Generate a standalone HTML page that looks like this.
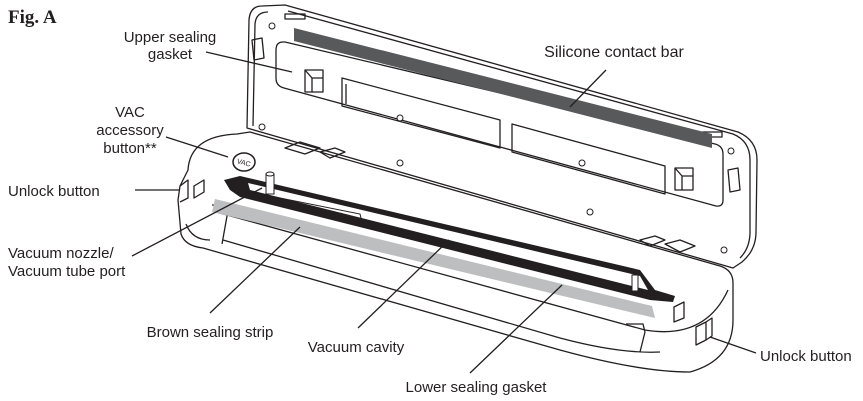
<!DOCTYPE html>
<html><head><meta charset="utf-8"><style>
html,body{margin:0;padding:0;background:#fff;}
svg{display:block}
text{font-family:"Liberation Sans",sans-serif;font-size:15px;fill:#231f20}
</style></head><body>
<svg width="863" height="401" viewBox="0 0 863 401" xmlns="http://www.w3.org/2000/svg">
<g fill="none" stroke="#231f20" stroke-width="1.3" stroke-linejoin="round">
<path d="M262,6 Q250,6 249,20 L247,128 L733,268 L742,262 Q756,250 756,232 L757,160 Q757,140 738,132 L285,5 Z" fill="#fff"/>
<path d="M268,12 Q256,12 255,24 L253,126 M288,11 L733,134 Q750,141 750,160 L750,232 Q750,248 740,258"/>
<path d="M283,42 Q276,42 276,50 L276,78 Q276,86 284,88 L716,206 Q723,207 723,200 L723,154 Q723,146 715,144 L285,42 Z"/>
<path d="M342,78 L342,106 L500,148 L500,120 Z M346,84 L346,104 M512,124 L512,152 L665,194 L665,166 Z"/>
<rect x="305" y="70" width="18" height="22"/><path d="M305,70 L312,78 L323,78 M312,78 L312,92"/>
<rect x="675" y="168" width="18" height="22"/><path d="M675,168 L682,176 L693,176 M682,176 L682,190"/>
<path d="M252,40 L262,38 L264,58 L254,60 Z M728,170 L738,168 L740,190 L730,192 Z"/>
<rect x="285" y="14" width="20" height="5"/><rect x="702" y="132" width="20" height="5"/>
<path d="M237,134 Q190,136 188,170 L180,186 L178,200 L181,234 Q185,246 203,248 L560,350 Q640,372 690,372 Q733,360 733,320 L733,283 Q733,270 720,266 L250,132 Z" fill="#fff"/>
<path d="M223,240 L560,338 Q620,354 660,352"/>
<path d="M216,212 L645,330 Q705,340 728,290"/>
<path d="M186,224 Q192,240 210,240"/>
<path d="M212,205 L229,205 L222,244 M626,324 L643,324 L645,332 M645,332 L640,352"/>
<path d="M180,186 L188,180 L188,198 L180,202 M696,327 L706,322 L706,340 L696,345 Z M706,322 L712,318 L712,336 L706,340"/>
<path d="M194,186 L204,180 L204,192 L194,198 Z M674,307 L684,302 L684,318 L674,322 Z"/>
<path d="M285,148 L300,142 L320,148 L305,154 Z M320,152 L335,148 L345,152 L330,158 Z M640,240 L655,236 L665,240 L650,246 Z M665,244 L680,240 L695,246 L680,252 Z"/>
</g>
<path d="M294,28 L712,134 L712,148 L294,41 Z" fill="#58595b"/>
<path d="M215,199 L652,306 L655,318 L212,212 Z" fill="#bcbec0"/>
<path d="M224,180 L240,176 L640,270 L655,290 L675,296 L673,302 L650,300 L240,197 L230,190 Z" fill="#231f20"/>
<path d="M248,183 L640,276 L648,290 L250,190 Z" fill="#fff"/>
<path d="M275,197 L360,214 L362,222 L280,204 Z" fill="none" stroke="#231f20"/>
<rect x="266" y="174" width="8" height="20" fill="#fff" stroke="#231f20"/>
<ellipse cx="270" cy="174" rx="4" ry="2" fill="#fff" stroke="#231f20"/>
<rect x="632" y="275" width="6" height="16" fill="#fff" stroke="#231f20"/>
<ellipse cx="244" cy="162" rx="11" ry="9" fill="#fff" stroke="#231f20" stroke-width="1.5"/>
<text x="244" y="165" text-anchor="middle" transform="rotate(15 244 162)" style="font-size:7px">VAC</text>
<g fill="#fff" stroke="#231f20"><circle cx="272" cy="26" r="3"/><circle cx="400" cy="118" r="3"/><circle cx="262" cy="127" r="3"/><circle cx="400" cy="163" r="3"/><circle cx="582" cy="163" r="3"/><circle cx="731" cy="151" r="3"/><circle cx="590" cy="212" r="3"/><circle cx="724" cy="250" r="3"/></g>
<g stroke="#231f20" stroke-width="1.3">
<line x1="206" y1="52" x2="292" y2="72"/>
<line x1="606" y1="70" x2="570" y2="107"/>
<line x1="166" y1="137" x2="228" y2="157"/>
<line x1="135" y1="190" x2="179" y2="190"/>
<line x1="132" y1="256" x2="262" y2="188"/>
<line x1="210" y1="313" x2="300" y2="227"/>
<line x1="358" y1="328" x2="449" y2="240"/>
<line x1="470" y1="373" x2="562" y2="285"/>
<line x1="710" y1="337" x2="756" y2="353"/>
</g>
<text x="8" y="23" style="font-family:'Liberation Serif',serif;font-weight:bold;font-size:19px">Fig. A</text>
<text x="170" y="42" text-anchor="middle">Upper sealing</text>
<text x="170" y="59" text-anchor="middle">gasket</text>
<text x="614" y="57" text-anchor="middle" style="font-size:16px">Silicone contact bar</text>
<text x="130" y="117" text-anchor="middle">VAC</text>
<text x="130" y="135" text-anchor="middle">accessory</text>
<text x="130" y="153" text-anchor="middle">button**</text>
<text x="8" y="196">Unlock button</text>
<text x="8" y="258">Vacuum nozzle/</text>
<text x="8" y="276">Vacuum tube port</text>
<text x="210" y="337" text-anchor="middle">Brown sealing strip</text>
<text x="356" y="352" text-anchor="middle">Vacuum cavity</text>
<text x="476" y="392" text-anchor="middle">Lower sealing gasket</text>
<text x="760" y="361">Unlock button</text>
</svg>
</body></html>
